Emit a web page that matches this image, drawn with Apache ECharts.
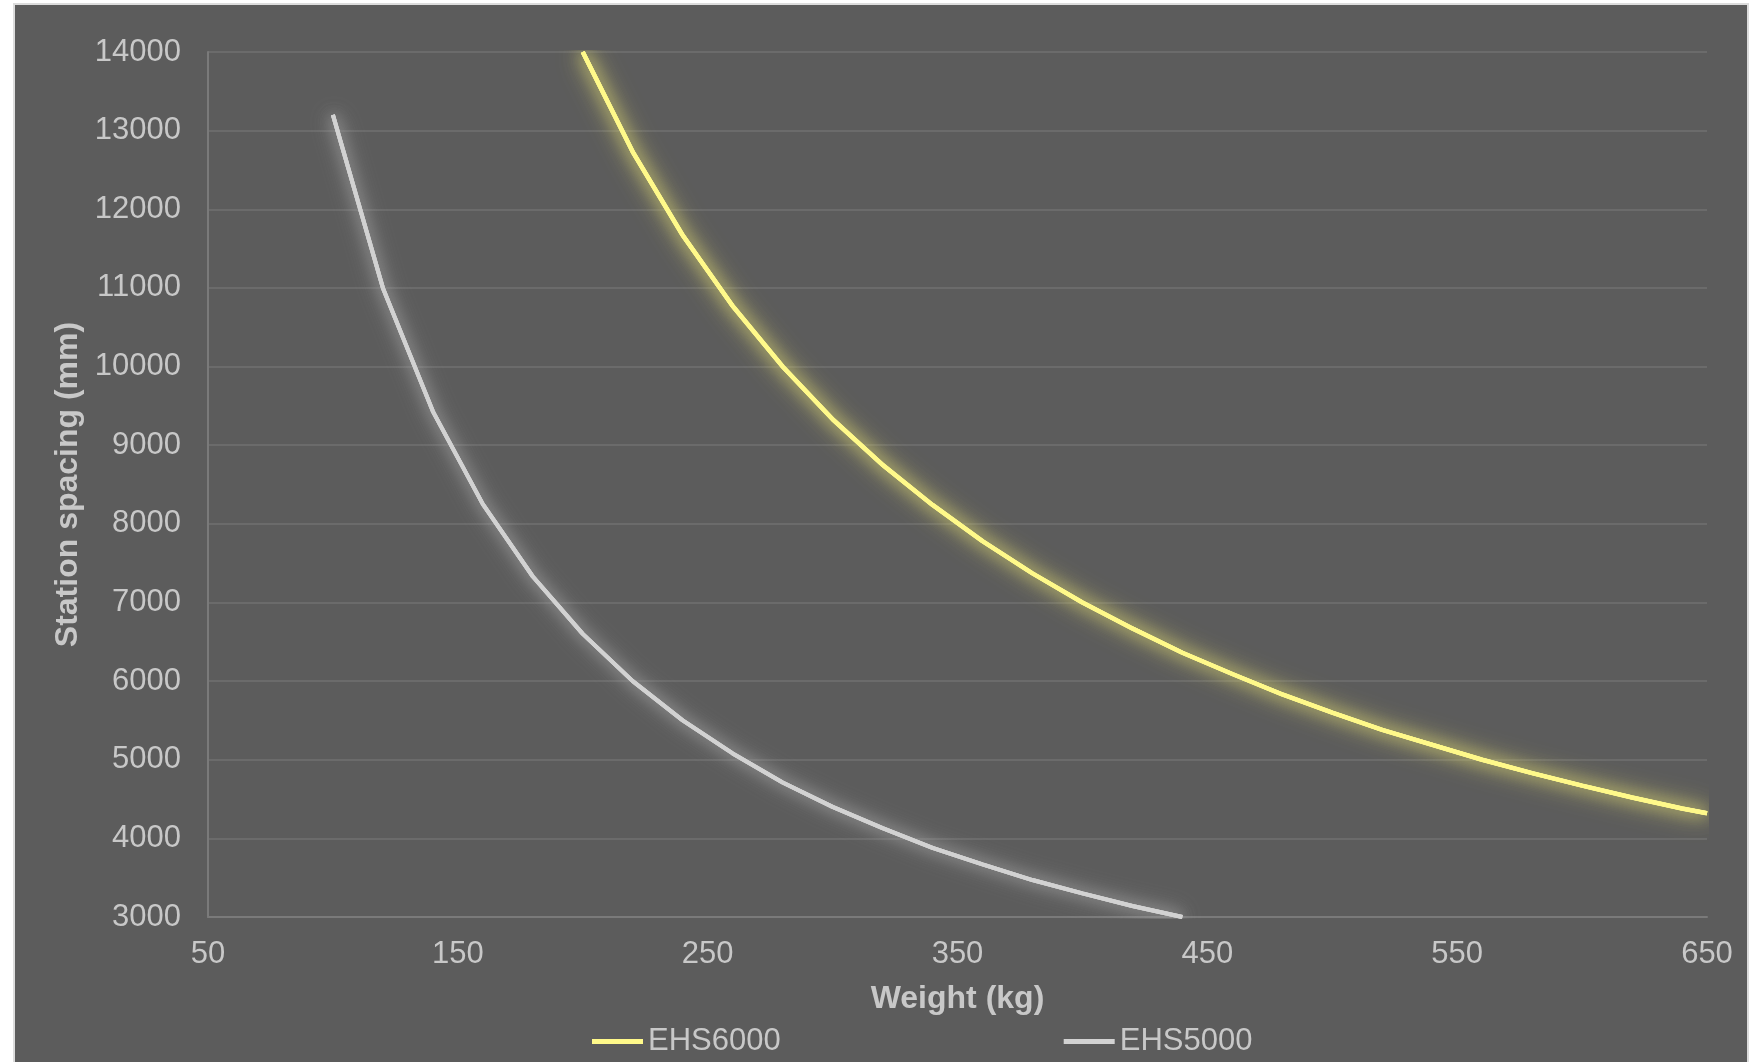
<!DOCTYPE html>
<html>
<head>
<meta charset="utf-8">
<script src="https://cdn.jsdelivr.net/npm/echarts@6/dist/echarts.min.js"></script>
<style>
html, body { margin: 0; padding: 0; background: #fff; }
#chart { width: 1754px; height: 1062px; }
</style>
</head>
<body>
<div id="chart"></div>
<script>
// EHS6000 curve (weight kg -> station spacing mm)
var ehs6000Weight = [200, 220, 240, 260, 280, 300, 320, 340, 360, 380, 400, 420, 440, 460, 480, 500, 520, 540, 560, 580, 600, 620, 640, 650];
var ehs6000Spacing = [14000, 12730, 11670, 10770, 10000, 9330, 8750, 8240, 7780, 7370, 7000, 6670, 6360, 6090, 5830, 5600, 5380, 5190, 5000, 4830, 4670, 4520, 4380, 4320];

// EHS5000 curve
var ehs5000Weight = [100, 120, 140, 160, 180, 200, 220, 240, 260, 280, 300, 320, 340, 360, 380, 400, 420, 440];
var ehs5000Spacing = [13200, 11000, 9430, 8250, 7330, 6600, 6000, 5500, 5080, 4710, 4400, 4130, 3880, 3670, 3470, 3300, 3140, 3000];

var seriesNames = ['EHS6000', 'EHS5000'];

function pairs(xs, ys) {
    return xs.map(function (x, i) { return [x, ys[i]]; });
}

// soft halo: same path under the main line, only its shadow shows (not in legend)
function glow(data, color, lineColor, blur) {
    return {
        name: 'glow',
        type: 'line',
        data: data,
        showSymbol: false,
        silent: true,
        lineStyle: { color: lineColor, width: 4, shadowColor: color, shadowBlur: blur },
        z: 2
    };
}

var font = "'Liberation Sans', Arial, sans-serif";
var textColor = '#c8c8c8';

var d6000 = pairs(ehs6000Weight, ehs6000Spacing);
var d5000 = pairs(ehs5000Weight, ehs5000Spacing);

var chart = echarts.init(document.getElementById('chart'));
var option = {
    backgroundColor: '#ffffff',
    animation: false,
    graphic: {
        elements: [{
            type: 'rect',
            z: -100,
            shape: { x: 14, y: 4, width: 1734, height: 1070 },
            style: { fill: '#5c5c5c', stroke: '#dcdcdc', lineWidth: 2 }
        }]
    },
    grid: {
        left: 208,
        right: 47,
        top: 52,
        bottom: 145
    },
    legend: {
        data: seriesNames,
        left: 587,
        top: 1021,
        icon: 'rect',
        itemWidth: 51,
        itemHeight: 5,
        itemGap: 283,
        textStyle: { color: textColor, fontSize: 31, fontFamily: font, padding: [0, 0, 0, 0] }
    },
    xAxis: {
        type: 'value',
        min: 50,
        max: 650,
        interval: 100,
        name: 'Weight (kg)',
        nameLocation: 'middle',
        nameGap: 66,
        nameTextStyle: { color: textColor, fontSize: 32, fontWeight: 'bold', fontFamily: font },
        axisLine: { show: true, lineStyle: { color: '#7a7a7a', width: 2 } },
        axisTick: { show: false },
        axisLabel: { color: textColor, fontSize: 31, fontFamily: font, margin: 22 },
        splitLine: { show: false }
    },
    yAxis: {
        type: 'value',
        min: 3000,
        max: 14000,
        interval: 1000,
        name: 'Station spacing (mm)',
        nameLocation: 'middle',
        nameGap: 116,
        nameTextStyle: { color: textColor, fontSize: 32, fontWeight: 'bold', fontFamily: font },
        axisLine: { show: true, lineStyle: { color: '#7a7a7a', width: 2 } },
        axisTick: { show: false },
        axisLabel: {
            color: textColor, fontSize: 31, fontFamily: font, margin: 27,
            formatter: function (v) { return String(v); }
        },
        splitLine: { show: true, lineStyle: { color: '#6b6b6b', width: 2 } }
    },
    series: [
        glow(d6000, '#d6d070', '#fff98a', 26),
        glow(d6000, '#d6d070', '#fff98a', 20),
        glow(d6000, '#d6d070', '#fff98a', 14),
        glow(d5000, '#b0b0b0', '#d2d2d2', 22),
        glow(d5000, '#b0b0b0', '#d2d2d2', 14),
        {
            name: 'EHS6000',
            type: 'line',
            data: d6000,
            showSymbol: false,
            color: '#fff98a',
            lineStyle: { color: '#fff98a', width: 4.5 },
            z: 3
        },
        {
            name: 'EHS5000',
            type: 'line',
            data: d5000,
            showSymbol: false,
            color: '#d2d2d2',
            lineStyle: { color: '#d2d2d2', width: 4 },
            z: 3
        }
    ]
};
chart.setOption(option);
</script>
</body>
</html>
